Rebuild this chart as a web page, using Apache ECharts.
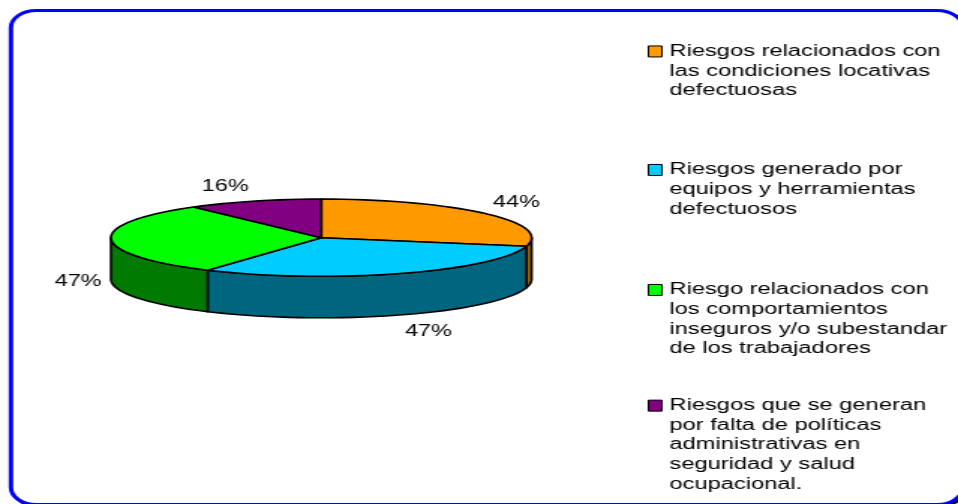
<!DOCTYPE html>
<html>
<head>
<meta charset="utf-8">
<script src="https://cdn.jsdelivr.net/npm/echarts@6/dist/echarts.min.js"></script>
<style>
html,body{margin:0;padding:0;width:958px;height:504px;overflow:hidden;background:#fff}
#chart{width:639px;height:504px;transform:scaleX(1.4992);transform-origin:0 0}
</style>
</head>
<body>
<div id="chart"></div>
<script>
var categories = [
  'Riesgos relacionados con\nlas condiciones locativas\ndefectuosas',
  'Riesgos generado por\nequipos y herramientas\ndefectuosos',
  'Riesgo relacionados con\nlos comportamientos\ninseguros y/o subestandar\nde los trabajadores',
  'Riesgos que se generan\npor falta de políticas\nadministrativas en\nseguridad y salud\nocupacional.'
];
var values = [44, 47, 47, 16];
var topColors = ['#FF9900', '#00CCFF', '#00FF00', '#800080'];
var sideColors = ['#996100', '#006680', '#007A00', '#500050'];

// Layout of the page (the picture is drawn narrow, then widened by 1.5)
var CX = 214.3, CY = 237.7, RX = 140.3, RY = 38.6, DEPTH = 41.5, STEP = 3;
var LABEL_OFFSETS = [[20.5, -11], [18.5, 58], [-22, 42], [-19, -14]];
var LEGEND_TOPS = [2.2, 120.7, 221, 317];
var LEGEND_LEFT = 432, LINE = 19.7;

var total = values.reduce(function (a, b) { return a + b; }, 0);
var angles = [];
values.reduce(function (acc, v) {
  angles.push([acc / total * 360, (acc + v) / total * 360]);
  return acc + v;
}, 0);

function pt(deg, dy) {
  var r = deg * Math.PI / 180;
  return [CX + RX * Math.sin(r), CY - RY * Math.cos(r) + (dy || 0)];
}
function arc(a, b, dy) {
  var pts = [], n = Math.max(1, Math.ceil((b - a) / STEP));
  for (var i = 0; i <= n; i++) pts.push(pt(a + (b - a) * i / n, dy));
  return pts;
}
var outline = { stroke: '#000', lineWidth: 1.6, lineJoin: 'round' };

function sideElement(i) {
  var a = Math.max(angles[i][0], 90), b = Math.min(angles[i][1], 270);
  if (a >= b) return null;
  var top = arc(a, b, 0), bottom = arc(a, b, DEPTH).reverse();
  return {
    type: 'polygon', z2: 1,
    shape: { points: top.concat(bottom) },
    style: Object.assign({ fill: sideColors[i] }, outline)
  };
}
function topElement(i) {
  var pts = [[CX, CY]].concat(arc(angles[i][0], angles[i][1], 0));
  return {
    type: 'polygon', z2: 2,
    shape: { points: pts },
    style: Object.assign({ fill: topColors[i] }, outline)
  };
}
function labelElement(i) {
  var mid = (angles[i][0] + angles[i][1]) / 2;
  var p = pt(mid, 0), off = LABEL_OFFSETS[i];
  return {
    type: 'text', z2: 3,
    style: {
      x: p[0] + off[0], y: p[1] + off[1],
      text: values[i] + '%',
      fill: '#000',
      font: '15.7px "Liberation Sans", Arial, sans-serif',
      align: 'center', verticalAlign: 'middle'
    }
  };
}

var series = categories.map(function (name, i) {
  return {
    type: 'custom',
    name: name,
    coordinateSystem: 'none',
    silent: true,
    animation: false,
    z: 2,
    itemStyle: { color: topColors[i] },
    data: [values[i]],
    renderItem: function () {
      var kids = [sideElement(i), topElement(i), labelElement(i)].filter(Boolean);
      return { type: 'group', children: kids };
    }
  };
});

var legends = categories.map(function (name, i) {
  var lines = name.split('\n').length;
  return {
    data: [name],
    left: LEGEND_LEFT,
    top: LEGEND_TOPS[i],
    orient: 'vertical',
    padding: 0,
    icon: 'rect',
    itemWidth: 9,
    itemHeight: 11,
    itemGap: 0,
    selectedMode: false,
    itemStyle: { borderColor: '#000', borderWidth: 1 },
    // blank lines above keep the swatch level with the first line of text
    formatter: function (n) { return new Array(lines).join('\n') + n; },
    textStyle: {
      color: '#000',
      fontFamily: '"Liberation Sans", Arial, sans-serif',
      fontSize: 15.8,
      lineHeight: LINE
    }
  };
});

var chart = echarts.init(document.getElementById('chart'), null, { renderer: 'canvas' });
chart.setOption({
  animation: false,
  backgroundColor: '#fff',
  graphic: [
    { type: 'rect', z: 0, silent: true,
      shape: { x: 8.6, y: 12, width: 634.7, height: 494, r: 17 },
      style: { fill: 'none', stroke: '#000', lineWidth: 3 } },
    { type: 'rect', z: 1, silent: true,
      shape: { x: 7.3, y: 10.5, width: 634.7, height: 494, r: 17 },
      style: { fill: '#fff', stroke: '#0000FF', lineWidth: 3 } }
  ],
  legend: legends,
  series: series
});
</script>
</body>
</html>
